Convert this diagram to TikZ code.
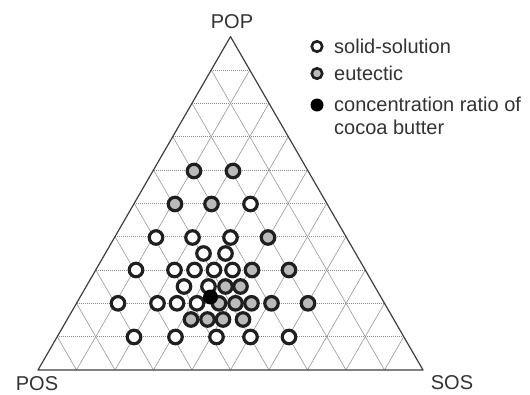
\documentclass[tikz,border=0pt]{standalone}
\usepackage{fontspec}
\setmainfont{Liberation Sans}
\usepackage{tikz}
\usetikzlibrary{calc}

\tikzset{
	ss/.style={circle, draw=black!88, line width=3.2pt, fill=white, minimum size=13.5pt, inner sep=0pt},
	eu/.style={ss, fill=black!27},
	cb/.style={circle, fill=black, minimum size=15pt, inner sep=0pt},
	lss/.style={circle, draw=black!88, line width=2.6pt, fill=white, minimum size=10.5pt, inner sep=0pt},
	leu/.style={lss, fill=black!27},
	lcb/.style={circle, fill=black, minimum size=13pt, inner sep=0pt},
	hgrid/.style={black!45, line width=0.6pt, dash pattern=on 1pt off 1pt},
	dgrid/.style={black!40, line width=0.6pt},
	txt/.style={font=\fontsize{20}{23}\selectfont, text=black!80, inner sep=0pt}
}

\begin{document}
\begin{tikzpicture}[x=1pt, y=-1pt]
	\fill[white] (0,0) rectangle (530,394);
	\useasboundingbox (0,0) rectangle (530,394);
	\coordinate (POS) at (38,370);
	\coordinate (SOS) at (423,370);
	\coordinate (POP) at (230.5,36.6);
	% grid, 10% steps
	\foreach \i in {1,...,9} {
		\draw[hgrid] ($(POS)!\i/10!(POP)$) -- ($(SOS)!\i/10!(POP)$);
		\draw[dgrid] ($(POS)!\i/10!(SOS)$) -- ($(POP)!\i/10!(SOS)$);
		\draw[dgrid] ($(SOS)!\i/10!(POS)$) -- ($(POP)!\i/10!(POS)$);
	}
	\draw[black!75, line width=1.2pt, line join=round] (POS) -- (SOS) -- (POP) -- cycle;
	\node[txt] (popl) at (232,22) {POP};
	\node[txt] (posl) at (37,384) {POS};
	\node[txt] (sosl) at (452,383) {SOS};
	% POP 60 / 50 / 40
	\node[eu] (e1) at (194,171) {};
	\node[eu] (e2) at (233,171) {};
	\node[eu] (e3) at (175,204) {};
	\node[eu] (e4) at (211.5,204) {};
	\node[ss] (s1) at (250.5,204) {};
	\node[ss] (s2) at (156,237.5) {};
	\node[ss] (s3) at (192.5,237.5) {};
	\node[ss] (s4) at (230.5,237.5) {};
	\node[eu] (e5) at (268,237.5) {};
	\node[ss] (s5) at (203.5,253.5) {};
	\node[ss] (s6) at (225.5,253.5) {};
	% POP 30
	\node[ss] (s7) at (136,270) {};
	\node[ss] (s8) at (174.5,270) {};
	\node[ss] (s9) at (194.5,270) {};
	\node[ss] (s10) at (214,270) {};
	\node[ss] (s11) at (232.5,270) {};
	\node[eu] (e6) at (252,270) {};
	\node[eu] (e7) at (289,270) {};
	\node[ss] (s12) at (184,286.5) {};
	\node[ss] (s13) at (208.5,286.5) {};
	\node[eu] (e8) at (225.5,286.5) {};
	\node[eu] (e9) at (240.5,286.5) {};
	% POP 20
	\node[ss] (s14) at (118,303.3) {};
	\node[ss] (s15) at (157.5,303.3) {};
	\node[ss] (s16) at (177,303.3) {};
	\node[ss] (s17) at (197,303.3) {};
	\node[eu] (e10) at (219,303.3) {};
	\node[eu] (e11) at (235.5,303.3) {};
	\node[eu] (e12) at (251.5,303.3) {};
	\node[eu] (e13) at (271.5,303.3) {};
	\node[eu] (e14) at (308,303.3) {};
	\node[eu] (e15) at (191,319.5) {};
	\node[eu] (e16) at (207.5,319.5) {};
	\node[eu] (e17) at (223,319.5) {};
	\node[eu] (e18) at (243,319.5) {};
	% POP 10
	\node[ss] (s18) at (134,337) {};
	\node[ss] (s19) at (175.5,337) {};
	\node[ss] (s20) at (216.5,337) {};
	\node[ss] (s21) at (250.5,337) {};
	\node[ss] (s22) at (289,337) {};
	\node[cb] (cb) at (210.5,297) {};
	% legend
	\node[lss] (k1) at (317,46.5) {};
	\node[leu] (k2) at (317,73.5) {};
	\node[lcb] (k3) at (317,105) {};
	\node[txt, anchor=base west] (t1) at (334,53) {solid-solution};
	\node[txt, anchor=base west] (t2) at (334,80) {eutectic};
	\node[txt, anchor=north west, align=left] (t3) at (334,96.5) {concentration ratio of\\cocoa butter};
\end{tikzpicture}
\end{document}
